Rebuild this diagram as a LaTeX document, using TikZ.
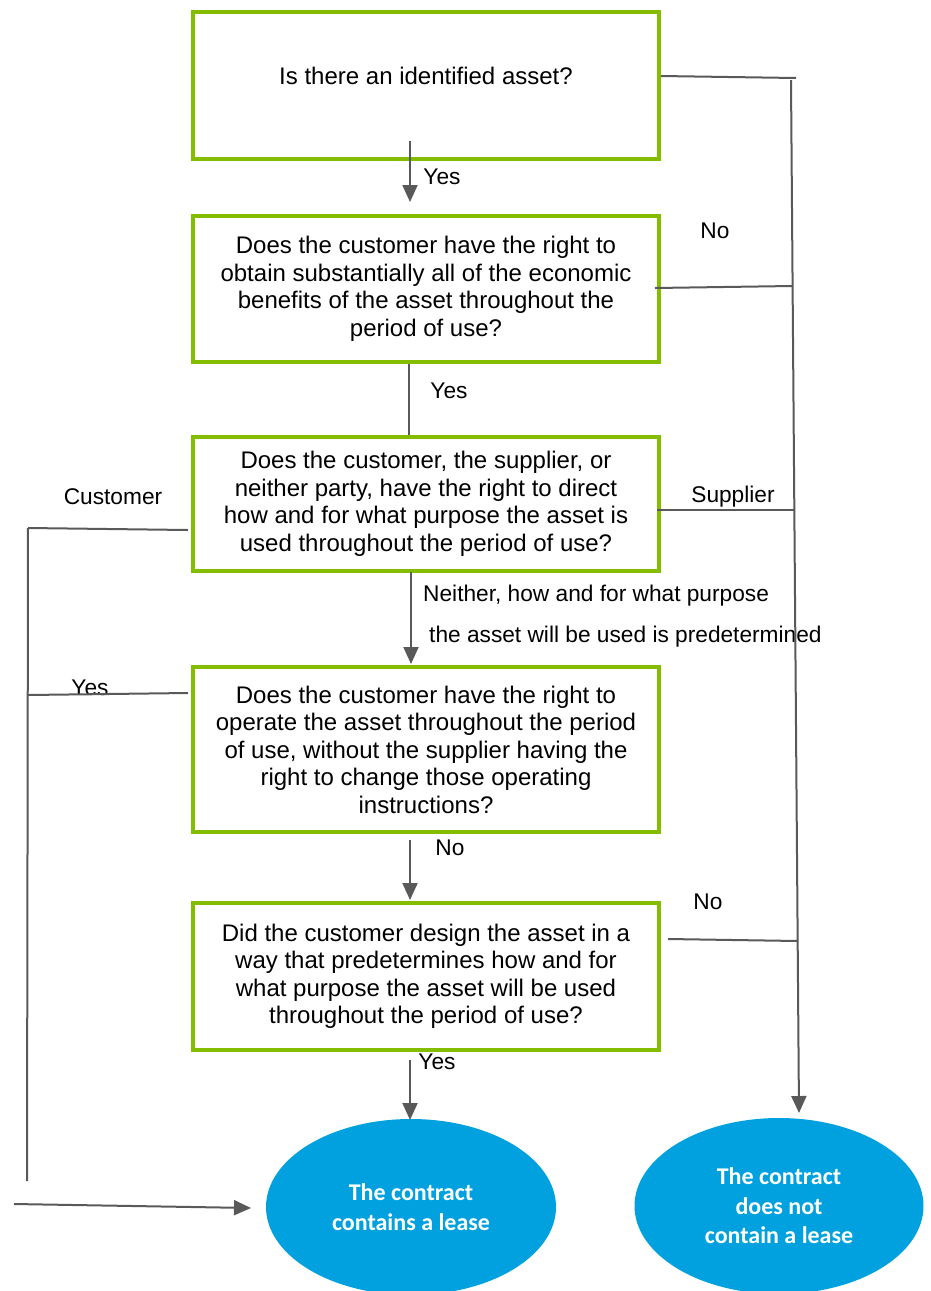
\documentclass[tikz,border=0pt]{standalone}
\usepackage{fontspec}
\setmainfont{Liberation Sans}
\newfontfamily\calib{Carlito}
\usetikzlibrary{arrows.meta,shapes.geometric}
\definecolor{dgreen}{HTML}{84BD00}
\definecolor{dblue}{HTML}{00A1DE}
\definecolor{lgray}{HTML}{595959}
\tikzset{
  qbox/.style={draw=dgreen, line width=4pt, minimum width=466pt, align=center,
    font=\fontsize{24}{27.5}\selectfont, inner sep=0pt, text=black},
  endell/.style={ellipse, fill=dblue, draw=none, minimum width=290pt, align=center,
    font=\calib\bfseries\fontsize{24}{29.5}\selectfont, text=white, inner sep=0pt},
  conn/.style={draw=lgray, line width=2pt},
  arr/.style={conn, -{Triangle[length=17pt,width=15pt]}},
  lbl/.style={font=\fontsize{22.7}{26}\selectfont, inner sep=0pt, text=black},
}
\begin{document}
\begin{tikzpicture}[x=1pt,y=-1pt]
\useasboundingbox (0,0) rectangle (930,1291);
% boxes
\node[qbox, minimum height=147pt, text depth=20pt] (b1) at (426,85.5) {Is there an identified asset?};
\node[qbox, minimum height=146pt] (b2) at (426,289) {Does the customer have the right to\\obtain substantially all of the economic\\benefits of the asset throughout the\\period of use?};
\node[qbox, minimum height=134pt] (b3) at (426,504) {Does the customer, the supplier, or\\neither party, have the right to direct\\how and for what purpose the asset is\\used throughout the period of use?};
\node[qbox, minimum height=165pt] (b4) at (426,749.5) {Does the customer have the right to\\operate the asset throughout the period\\of use, without the supplier having the\\right to change those operating\\instructions?};
\node[qbox, minimum height=147pt] (b5) at (426,976.5) {Did the customer design the asset in a\\way that predetermines how and for\\what purpose the asset will be used\\throughout the period of use?};
% end ellipses
\node[endell, minimum height=176pt] (e1) at (411,1207) {The contract\\contains a lease};
\node[endell, minimum width=289pt, minimum height=176pt] (e2) at (779,1206) {The contract\\does not\\contain a lease};
% labels
\node[lbl] (lyes1) at (442,177) {Yes};
\node[lbl] (lno1) at (715,231) {No};
\node[lbl] (lyes2) at (449,391) {Yes};
\node[lbl] (lcust) at (113,497) {Customer};
\node[lbl] (lsupp) at (733,497) {Supplier};
\node[lbl, anchor=west] (lneit1) at (423,596) {Neither, how and for what purpose};
\node[lbl, anchor=west] (lneit2) at (429,637) {the asset will be used is predetermined};
\node[lbl] (lyes3) at (90,688) {Yes};
\node[lbl] (lno2) at (450,848) {No};
\node[lbl] (lno3) at (708,902) {No};
\node[lbl] (lyes4) at (437,1062) {Yes};
% coordinates
\coordinate (a1) at (661,76);
\coordinate (rt) at (796,78);
\coordinate (rv) at (791,80);
\coordinate (rb) at (799,1113);
\coordinate (a2) at (655,288);
\coordinate (r2) at (792,286);
\coordinate (a3) at (657,510);
\coordinate (r3) at (795,510);
\coordinate (a5) at (668,939);
\coordinate (r5) at (798,941);
\coordinate (c1) at (188,530);
\coordinate (lt) at (28,528);
\coordinate (lb) at (27,1181);
\coordinate (c4) at (188,693);
\coordinate (l4) at (28,695);
\coordinate (ls) at (14,1204);
\coordinate (le) at (251,1208);
\coordinate (s1) at (410,141);
\coordinate (t1) at (410,202);
\coordinate (s2) at (409,364);
\coordinate (s3) at (411,572);
\coordinate (t3) at (411,664);
\coordinate (s4) at (410,840);
\coordinate (t4) at (410,900);
\coordinate (s5) at (410,1060);
\coordinate (t5) at (410,1120);
% connectors
\draw[conn] (a1) -- (rt);
\draw[arr] (rv) -- (rb);
\draw[conn] (a2) -- (r2);
\draw[conn] (a3) -- (r3);
\draw[conn] (a5) -- (r5);
\draw[conn] (c1) -- (lt);
\draw[conn] (lt) -- (lb);
\draw[conn] (c4) -- (l4);
\draw[arr] (ls) -- (le);
\draw[arr] (s1) -- (t1);
\draw[conn] (s2) -- (b3.north -| s2);
\draw[arr] (s3) -- (t3);
\draw[arr] (s4) -- (t4);
\draw[arr] (s5) -- (t5);
\end{tikzpicture}
\end{document}
